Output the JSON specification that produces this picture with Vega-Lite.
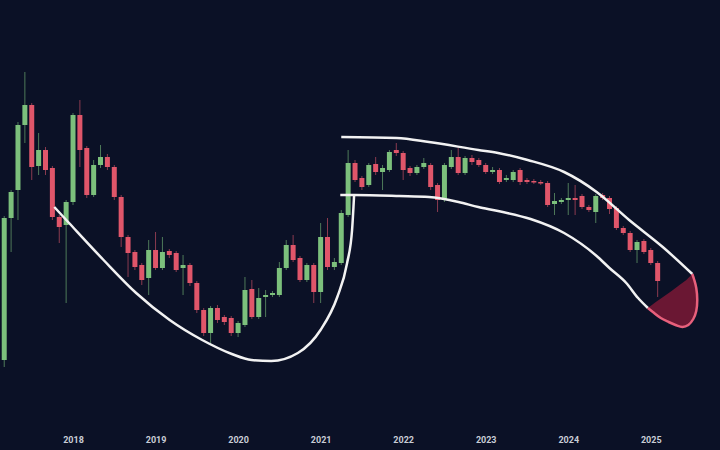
{
  "$schema": "https://vega.github.io/schema/vega-lite/v6.json",
  "description": "Monthly candles 2017-2025 with a cup-and-handle outline",
  "width": 720,
  "height": 425,
  "autosize": {"type": "none"},
  "padding": {"left": 0, "top": 0, "right": 0, "bottom": 25},
  "background": "#0b1126",
  "config": {"view": {"stroke": null}},
  "datasets": {
    "candles": [
      {"t": 2017.1667, "o": 65, "c": 207, "h": 209, "l": 58},
      {"t": 2017.25, "o": 207, "c": 233, "h": 235, "l": 173},
      {"t": 2017.3333, "o": 235, "c": 300, "h": 303, "l": 205},
      {"t": 2017.4167, "o": 300, "c": 320, "h": 353, "l": 282},
      {"t": 2017.5, "o": 320, "c": 258, "h": 322, "l": 245},
      {"t": 2017.5833, "o": 259, "c": 275, "h": 292, "l": 250},
      {"t": 2017.6667, "o": 275, "c": 255, "h": 278, "l": 250},
      {"t": 2017.75, "o": 257, "c": 208, "h": 259, "l": 205},
      {"t": 2017.8333, "o": 208, "c": 198, "h": 210, "l": 182},
      {"t": 2017.9167, "o": 200, "c": 223, "h": 225, "l": 122},
      {"t": 2018.0, "o": 223, "c": 310, "h": 312, "l": 220},
      {"t": 2018.0833, "o": 310, "c": 275, "h": 325, "l": 258},
      {"t": 2018.1667, "o": 277, "c": 230, "h": 279, "l": 227},
      {"t": 2018.25, "o": 230, "c": 260, "h": 265, "l": 228},
      {"t": 2018.3333, "o": 260, "c": 268, "h": 280, "l": 257},
      {"t": 2018.4167, "o": 268, "c": 258, "h": 271, "l": 255},
      {"t": 2018.5, "o": 258, "c": 228, "h": 260, "l": 225},
      {"t": 2018.5833, "o": 228, "c": 188, "h": 230, "l": 178},
      {"t": 2018.6667, "o": 188, "c": 172, "h": 190, "l": 148},
      {"t": 2018.75, "o": 173, "c": 158, "h": 175, "l": 155},
      {"t": 2018.8333, "o": 160, "c": 145, "h": 162, "l": 140},
      {"t": 2018.9167, "o": 147, "c": 175, "h": 185, "l": 130},
      {"t": 2019.0, "o": 175, "c": 157, "h": 193, "l": 155},
      {"t": 2019.0833, "o": 157, "c": 173, "h": 188, "l": 155},
      {"t": 2019.1667, "o": 174, "c": 170, "h": 176, "l": 167},
      {"t": 2019.25, "o": 172, "c": 155, "h": 174, "l": 153},
      {"t": 2019.3333, "o": 157, "c": 160, "h": 170, "l": 130},
      {"t": 2019.4167, "o": 160, "c": 142, "h": 162, "l": 139},
      {"t": 2019.5, "o": 142, "c": 115, "h": 144, "l": 112},
      {"t": 2019.5833, "o": 115, "c": 92, "h": 117, "l": 89},
      {"t": 2019.6667, "o": 92, "c": 117, "h": 119, "l": 82},
      {"t": 2019.75, "o": 117, "c": 105, "h": 120, "l": 102},
      {"t": 2019.8333, "o": 108, "c": 103, "h": 110, "l": 100},
      {"t": 2019.9167, "o": 107, "c": 92, "h": 109, "l": 89},
      {"t": 2020.0, "o": 92, "c": 102, "h": 104, "l": 88},
      {"t": 2020.0833, "o": 100, "c": 135, "h": 148, "l": 98},
      {"t": 2020.1667, "o": 136, "c": 108, "h": 145, "l": 106},
      {"t": 2020.25, "o": 108, "c": 127, "h": 137, "l": 106},
      {"t": 2020.3333, "o": 128, "c": 130, "h": 135, "l": 108},
      {"t": 2020.4167, "o": 130, "c": 132, "h": 134, "l": 128},
      {"t": 2020.5, "o": 130, "c": 157, "h": 163, "l": 128},
      {"t": 2020.5833, "o": 157, "c": 180, "h": 185, "l": 155},
      {"t": 2020.6667, "o": 180, "c": 165, "h": 190, "l": 163},
      {"t": 2020.75, "o": 167, "c": 145, "h": 169, "l": 143},
      {"t": 2020.8333, "o": 145, "c": 160, "h": 162, "l": 143},
      {"t": 2020.9167, "o": 160, "c": 133, "h": 162, "l": 122},
      {"t": 2021.0, "o": 133, "c": 188, "h": 202, "l": 122},
      {"t": 2021.0833, "o": 188, "c": 158, "h": 207, "l": 155},
      {"t": 2021.1667, "o": 158, "c": 163, "h": 167, "l": 155},
      {"t": 2021.25, "o": 162, "c": 212, "h": 215, "l": 160},
      {"t": 2021.3333, "o": 210, "c": 262, "h": 275, "l": 208},
      {"t": 2021.4167, "o": 262, "c": 245, "h": 265, "l": 243},
      {"t": 2021.5, "o": 247, "c": 238, "h": 249, "l": 235},
      {"t": 2021.5833, "o": 240, "c": 260, "h": 262, "l": 238},
      {"t": 2021.6667, "o": 261, "c": 253, "h": 268, "l": 250},
      {"t": 2021.75, "o": 253, "c": 257, "h": 260, "l": 235},
      {"t": 2021.8333, "o": 255, "c": 273, "h": 275, "l": 253},
      {"t": 2021.9167, "o": 275, "c": 272, "h": 282, "l": 269},
      {"t": 2022.0, "o": 272, "c": 255, "h": 274, "l": 245},
      {"t": 2022.0833, "o": 257, "c": 252, "h": 259, "l": 249},
      {"t": 2022.1667, "o": 252, "c": 258, "h": 260, "l": 250},
      {"t": 2022.25, "o": 258, "c": 262, "h": 267, "l": 256},
      {"t": 2022.3333, "o": 260, "c": 238, "h": 262, "l": 235},
      {"t": 2022.4167, "o": 240, "c": 225, "h": 242, "l": 213},
      {"t": 2022.5, "o": 225, "c": 260, "h": 262, "l": 223},
      {"t": 2022.5833, "o": 258, "c": 268, "h": 275, "l": 256},
      {"t": 2022.6667, "o": 268, "c": 252, "h": 277, "l": 250},
      {"t": 2022.75, "o": 252, "c": 267, "h": 269, "l": 250},
      {"t": 2022.8333, "o": 267, "c": 263, "h": 270, "l": 260},
      {"t": 2022.9167, "o": 265, "c": 260, "h": 267, "l": 258},
      {"t": 2023.0, "o": 260, "c": 253, "h": 262, "l": 251},
      {"t": 2023.0833, "o": 253, "c": 255, "h": 258, "l": 251},
      {"t": 2023.1667, "o": 255, "c": 243, "h": 257, "l": 241},
      {"t": 2023.25, "o": 245, "c": 247, "h": 250, "l": 243},
      {"t": 2023.3333, "o": 245, "c": 253, "h": 255, "l": 243},
      {"t": 2023.4167, "o": 255, "c": 243, "h": 257, "l": 240},
      {"t": 2023.5, "o": 245, "c": 243, "h": 247, "l": 241},
      {"t": 2023.5833, "o": 244, "c": 242.5, "h": 246, "l": 241},
      {"t": 2023.6667, "o": 243, "c": 241.5, "h": 245, "l": 240},
      {"t": 2023.75, "o": 242, "c": 220, "h": 244, "l": 218},
      {"t": 2023.8333, "o": 221, "c": 224, "h": 232, "l": 210},
      {"t": 2023.9167, "o": 223, "c": 225, "h": 227, "l": 221},
      {"t": 2024.0, "o": 225, "c": 227, "h": 242, "l": 210},
      {"t": 2024.0833, "o": 227, "c": 225, "h": 240, "l": 210},
      {"t": 2024.1667, "o": 229, "c": 218, "h": 231, "l": 216},
      {"t": 2024.25, "o": 218, "c": 215, "h": 220, "l": 213},
      {"t": 2024.3333, "o": 213, "c": 229, "h": 231, "l": 202},
      {"t": 2024.4167, "o": 230, "c": 227, "h": 232, "l": 225},
      {"t": 2024.5, "o": 227, "c": 216, "h": 229, "l": 211},
      {"t": 2024.5833, "o": 217, "c": 197, "h": 219, "l": 195},
      {"t": 2024.6667, "o": 197, "c": 192, "h": 199, "l": 190},
      {"t": 2024.75, "o": 192, "c": 175, "h": 194, "l": 173},
      {"t": 2024.8333, "o": 175, "c": 183, "h": 185, "l": 162},
      {"t": 2024.9167, "o": 184, "c": 173, "h": 186, "l": 171},
      {"t": 2025.0, "o": 175, "c": 162, "h": 177, "l": 160},
      {"t": 2025.0833, "o": 162, "c": 144, "h": 164, "l": 128}
    ],
    "guides": [
      {"s": "cup", "i": 0, "t": 2017.773, "v": 218},
      {"s": "cup", "i": 1, "t": 2017.952, "v": 202},
      {"s": "cup", "i": 2, "t": 2018.370, "v": 165},
      {"s": "cup", "i": 3, "t": 2018.765, "v": 132},
      {"s": "cup", "i": 4, "t": 2019.171, "v": 105},
      {"s": "cup", "i": 5, "t": 2019.565, "v": 85},
      {"s": "cup", "i": 6, "t": 2019.924, "v": 71},
      {"s": "cup", "i": 7, "t": 2020.163, "v": 65},
      {"s": "cup", "i": 8, "t": 2020.401, "v": 64},
      {"s": "cup", "i": 9, "t": 2020.724, "v": 72},
      {"s": "cup", "i": 10, "t": 2020.999, "v": 95},
      {"s": "cup", "i": 11, "t": 2021.202, "v": 128},
      {"s": "cup", "i": 12, "t": 2021.321, "v": 162},
      {"s": "cup", "i": 13, "t": 2021.381, "v": 195},
      {"s": "cup", "i": 14, "t": 2021.405, "v": 229},
      {"s": "lower", "i": 0, "t": 2021.238, "v": 230},
      {"s": "lower", "i": 1, "t": 2021.405, "v": 230},
      {"s": "lower", "i": 2, "t": 2021.955, "v": 229},
      {"s": "lower", "i": 3, "t": 2022.313, "v": 228},
      {"s": "lower", "i": 4, "t": 2022.671, "v": 223},
      {"s": "lower", "i": 5, "t": 2022.910, "v": 218},
      {"s": "lower", "i": 6, "t": 2023.149, "v": 214},
      {"s": "lower", "i": 7, "t": 2023.544, "v": 206},
      {"s": "lower", "i": 8, "t": 2023.950, "v": 192},
      {"s": "lower", "i": 9, "t": 2024.344, "v": 169},
      {"s": "lower", "i": 10, "t": 2024.499, "v": 157},
      {"s": "lower", "i": 11, "t": 2024.703, "v": 142},
      {"s": "lower", "i": 12, "t": 2024.846, "v": 127},
      {"s": "lower", "i": 13, "t": 2024.965, "v": 117},
      {"s": "upper", "i": 0, "t": 2021.250, "v": 288},
      {"s": "upper", "i": 1, "t": 2021.919, "v": 287},
      {"s": "upper", "i": 2, "t": 2022.313, "v": 283},
      {"s": "upper", "i": 3, "t": 2022.910, "v": 275},
      {"s": "upper", "i": 4, "t": 2023.149, "v": 272},
      {"s": "upper", "i": 5, "t": 2023.508, "v": 265},
      {"s": "upper", "i": 6, "t": 2023.950, "v": 253},
      {"s": "upper", "i": 7, "t": 2024.344, "v": 233},
      {"s": "upper", "i": 8, "t": 2024.738, "v": 205},
      {"s": "upper", "i": 9, "t": 2025.145, "v": 178},
      {"s": "upper", "i": 10, "t": 2025.503, "v": 151}
    ],
    "tip": [
      {"i": 0, "t": 2024.965, "v": 117},
      {"i": 1, "t": 2025.025, "v": 113},
      {"i": 2, "t": 2025.121, "v": 107},
      {"i": 3, "t": 2025.216, "v": 103},
      {"i": 4, "t": 2025.300, "v": 100},
      {"i": 5, "t": 2025.384, "v": 98},
      {"i": 6, "t": 2025.455, "v": 100},
      {"i": 7, "t": 2025.515, "v": 106},
      {"i": 8, "t": 2025.551, "v": 114},
      {"i": 9, "t": 2025.563, "v": 125},
      {"i": 10, "t": 2025.551, "v": 137},
      {"i": 11, "t": 2025.527, "v": 145},
      {"i": 12, "t": 2025.503, "v": 151}
    ],
    "tipfill": [
      {"t": 2024.965, "top": 117, "bot": 117},
      {"t": 2025.061, "top": 123, "bot": 111},
      {"t": 2025.157, "top": 128.5, "bot": 105},
      {"t": 2025.252, "top": 134, "bot": 101.5},
      {"t": 2025.348, "top": 140, "bot": 98.5},
      {"t": 2025.431, "top": 145, "bot": 99},
      {"t": 2025.503, "top": 150, "bot": 105},
      {"t": 2025.539, "top": 142, "bot": 111},
      {"t": 2025.563, "top": 127, "bot": 122}
    ]
  },
  "encoding": {
    "x": {
      "field": "t",
      "type": "quantitative",
      "scale": {"domain": [2017.176, 2025.778], "nice": false, "zero": false},
      "axis": {
        "values": [2018, 2019, 2020, 2021, 2022, 2023, 2024, 2025],
        "format": "d",
        "title": null,
        "domain": false,
        "ticks": false,
        "grid": false,
        "labelPadding": 10,
        "labelColor": "#c9cdd6",
        "labelFont": "Roboto",
        "labelFontSize": 9,
        "labelFontWeight": "bold",
        "labelFlush": false
      }
    }
  },
  "layer": [
    {
      "data": {"name": "tipfill"},
      "mark": {"type": "area", "color": "#6a1733", "interpolate": "monotone"},
      "encoding": {
        "y": {"field": "top", "type": "quantitative", "scale": {"domain": [0, 425], "nice": false, "zero": false}, "axis": null},
        "y2": {"field": "bot"}
      }
    },
    {
      "data": {"name": "candles"},
      "mark": {"type": "rule", "strokeWidth": 1, "opacity": 0.6},
      "encoding": {
        "y": {"field": "l", "type": "quantitative", "scale": {"domain": [0, 425], "nice": false, "zero": false}, "axis": null},
        "y2": {"field": "h"},
        "color": {"condition": {"test": "datum.c >= datum.o", "value": "#7cc07c"}, "value": "#e0566a"}
      }
    },
    {
      "data": {"name": "candles"},
      "mark": {"type": "bar", "width": 5},
      "encoding": {
        "y": {"field": "o", "type": "quantitative", "scale": {"domain": [0, 425], "nice": false, "zero": false}, "axis": null},
        "y2": {"field": "c"},
        "color": {"condition": {"test": "datum.c >= datum.o", "value": "#7cc07c"}, "value": "#e0566a"}
      }
    },
    {
      "data": {"name": "guides"},
      "mark": {"type": "line", "color": "#f2f2f2", "strokeWidth": 2.5, "interpolate": "monotone"},
      "encoding": {
        "y": {"field": "v", "type": "quantitative", "scale": {"domain": [0, 425], "nice": false, "zero": false}, "axis": null},
        "detail": {"field": "s"},
        "order": {"field": "i", "type": "quantitative"}
      }
    },
    {
      "data": {"name": "tip"},
      "mark": {"type": "line", "color": "#e8607c", "strokeWidth": 2.5, "interpolate": "catmull-rom"},
      "encoding": {
        "y": {"field": "v", "type": "quantitative", "scale": {"domain": [0, 425], "nice": false, "zero": false}, "axis": null},
        "order": {"field": "i", "type": "quantitative"}
      }
    }
  ]
}
